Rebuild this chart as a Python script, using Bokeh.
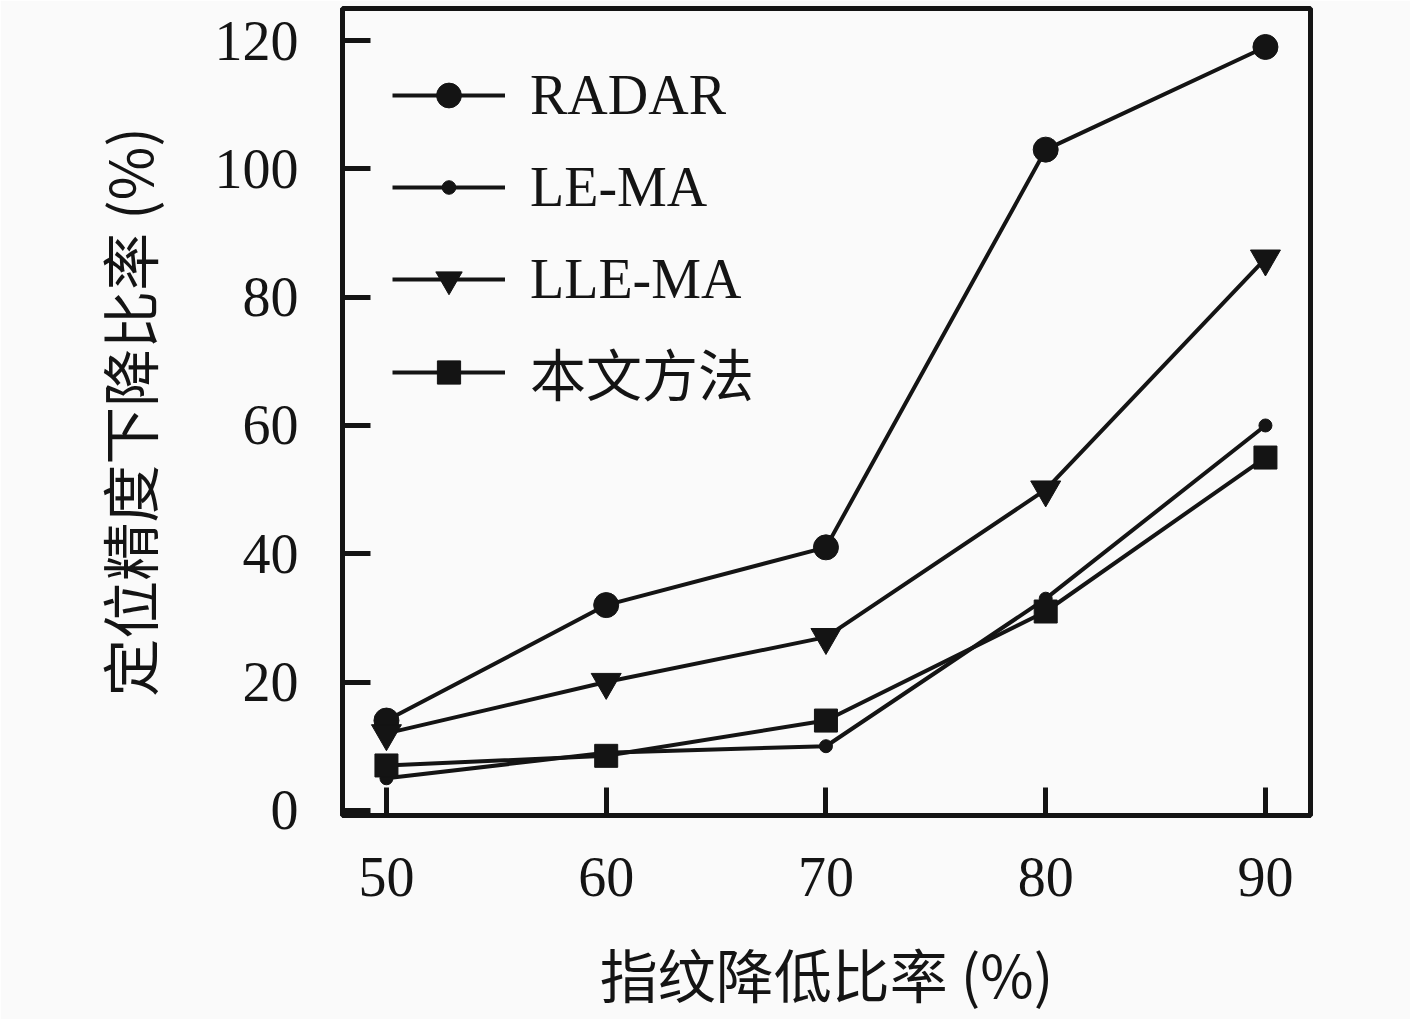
from bokeh.plotting import figure
from bokeh.models import Range1d, FixedTicker, Legend, LegendItem
from bokeh.embed import file_html
from bokeh.resources import INLINE

x_vals = [50, 60, 70, 80, 90]
radar = [14, 32, 41, 103, 119]
le_ma = [5, 9, 10, 33, 60]
lle_ma = [12, 20, 27, 50, 86]
ours = [7, 8.5, 14, 31, 55]
series_names = ["RADAR", "LE-MA", "LLE-MA", "本文方法"]
x_ticks = [50, 60, 70, 80, 90]
y_ticks = [0, 20, 40, 60, 80, 100, 120]
x_title = "指纹降低比率 (%)"
y_title = "定位精度下降比率 (%)"

INK = "#141414"
BG = "#fafafa"
SERIF = "Liberation Serif"
CJK = "Noto Sans CJK SC"

W, H = 1410, 1019
FL, FT, FR, FB = 342, 8, 1310, 815

p = figure(width=W, height=H,
           x_range=Range1d(48, 92.05), y_range=Range1d(-0.8, 125),
           output_backend="svg", toolbar_location=None,
           min_border_left=FL, min_border_right=W - FR,
           min_border_top=FT, min_border_bottom=H - FB)

p.background_fill_color = BG
p.border_fill_color = BG
p.outline_line_color = INK
p.outline_line_width = 5
p.grid.visible = False

for ax in (p.xaxis[0], p.yaxis[0]):
    ax.axis_line_width = 5
    ax.axis_line_color = INK
    ax.major_tick_line_width = 5
    ax.major_tick_line_color = INK
    ax.major_tick_in = 28
    ax.major_tick_out = 0
    ax.minor_tick_line_color = None
    ax.major_label_text_font = SERIF
    ax.major_label_text_font_size = "56px"
    ax.major_label_text_color = INK
    ax.axis_label_text_font = CJK
    ax.axis_label_text_font_size = "58px"
    ax.axis_label_text_font_style = "normal"
    ax.axis_label_text_color = INK

p.xaxis.ticker = FixedTicker(ticks=x_ticks)
p.yaxis.ticker = FixedTicker(ticks=y_ticks)
p.xaxis.major_label_standoff = 42
p.yaxis.major_label_standoff = 44
p.xaxis.axis_label = x_title
p.xaxis.axis_label_standoff = 32
p.yaxis.axis_label = y_title
p.yaxis.axis_label_standoff = 42

series = [radar, le_ma, lle_ma, ours]
markers = ["circle", "circle", "inverted_triangle", "square"]
sizes = [25, 13, 30, 23]
legend_glyph_h = [62, 34, 66, 58]
legend_center_y = [95, 187, 280, 368]
legend_item_h = [64, 64, 64, 88]

for name, ys, mk, sz, gh, cy, ih in zip(series_names, series, markers, sizes,
                                         legend_glyph_h, legend_center_y, legend_item_h):
    l = p.line(x_vals, ys, line_color=INK, line_width=4)
    s = p.scatter(x_vals, ys, marker=mk, size=sz, fill_color=INK, line_color=INK)
    lg = Legend(items=[LegendItem(label=name, renderers=[l, s])],
                location=(392 - FL, (FB - cy) - ih / 2),
                glyph_width=113, glyph_height=gh, label_standoff=25,
                padding=0, margin=0,
                border_line_color=None, background_fill_alpha=0,
                label_text_font="'Liberation Serif', 'Noto Sans CJK SC'",
                label_text_font_size="56px", label_text_color=INK)
    p.add_layout(lg)

open("out.html", "w").write(file_html(p, INLINE))
